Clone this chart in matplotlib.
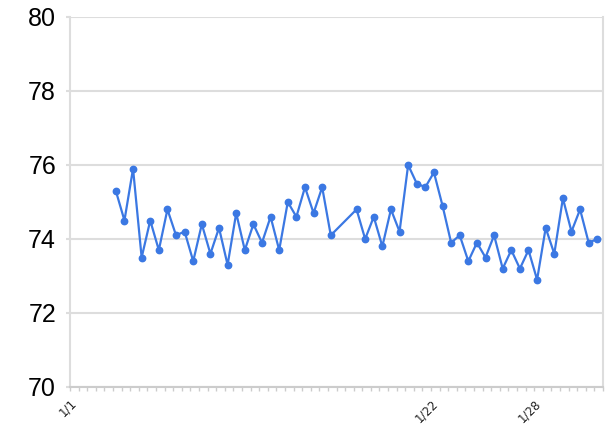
import numpy as np
import pandas as pd
import matplotlib
matplotlib.use("Agg")
from matplotlib import pyplot as plt
import matplotlib.dates as mdates

# readings every 12 hours, two missing around 1/17
times_first = pd.date_range("2021-01-03 16:00", periods=26, freq="12h")
times_second = pd.date_range("2021-01-17 16:00", periods=29, freq="12h")
values_first = [75.3, 74.5, 75.9, 73.5, 74.5, 73.7, 74.8, 74.1, 74.2, 73.4,
                74.4, 73.6, 74.3, 73.3, 74.7, 73.7, 74.4, 73.9, 74.6, 73.7,
                75.0, 74.6, 75.4, 74.7, 75.4, 74.1]
values_second = [74.8, 74.0, 74.6, 73.8, 74.8, 74.2, 76.0, 75.5, 75.4, 75.8,
                 74.9, 73.9, 74.1, 73.4, 73.9, 73.5, 74.1, 73.2, 73.7, 73.2,
                 73.7, 72.9, 74.3, 73.6, 75.1, 74.2, 74.8, 73.9, 74.0]
times = times_first.append(times_second)
values = values_first + values_second

x_start = pd.Timestamp("2021-01-01")
x_end = pd.Timestamp("2021-02-01")
label_dates = [pd.Timestamp("2021-01-01"), pd.Timestamp("2021-01-22"), pd.Timestamp("2021-01-28")]
label_texts = ["1/1", "1/22", "1/28"]
y_ticks = [70, 72, 74, 76, 78, 80]

fig = plt.figure(figsize=(6.16, 4.30), dpi=100)
ax = fig.add_axes([70/616, 1 - 387/430, 533/616, 370/430])

blue = "#3b78e3"
ax.plot(times, values, color=blue, lw=1.6, marker="o", ms=4.6, mec=blue, mfc=blue,
        zorder=3, clip_on=False)

ax.set_xlim(x_start, x_end)
ax.set_ylim(70, 80)
ax.set_yticks(y_ticks)
ax.set_yticklabels([str(v) for v in y_ticks], fontsize=18, family="Liberation Sans")
ax.tick_params(axis="y", length=3, color="#dddddd", width=1.5, pad=7)
ax.grid(axis="y", color="#dddddd", lw=1.5, zorder=0)

ax.set_xticks(label_dates)
ax.set_xticklabels(label_texts, rotation=45, ha="right", rotation_mode="anchor",
                   fontsize=8.5, color="#222222")
ax.xaxis.set_minor_locator(mdates.HourLocator(byhour=[0, 12]))
ax.tick_params(axis="x", which="both", length=3, color="#cccccc", width=1, pad=4)

ax.spines["top"].set_visible(False)
ax.spines["left"].set_color("#dddddd")
ax.spines["left"].set_linewidth(1.5)
ax.spines["right"].set_color("#dddddd")
ax.spines["right"].set_linewidth(1.5)
ax.spines["bottom"].set_color("#cccccc")
ax.spines["bottom"].set_linewidth(1.5)

fig.savefig("out.png", dpi=100)
